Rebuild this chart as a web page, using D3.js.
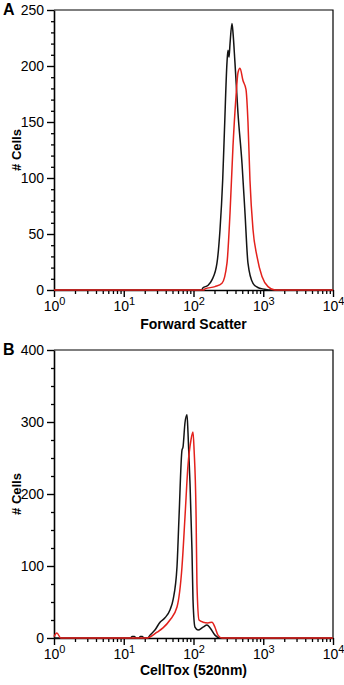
<!DOCTYPE html>
<html>
<head>
<meta charset="utf-8">
<script src="https://cdn.jsdelivr.net/npm/d3@7"></script>
<style>
  body { margin: 0; background: #fff; }
  svg { display: block; font-family: "Liberation Sans", Arial, sans-serif; }
</style>
</head>
<body>
<svg id="chart"></svg>
<script>
// Panel A: forward scatter histograms, [channel value, # cells]
const fscBlack = [
  [1, 0], [130, 0], [137, 2], [160, 4], [184, 9], [217, 24], [240, 54], [262, 98],
  [278, 143], [302, 203], [312, 214], [323, 208], [334, 220], [356, 238], [368, 230],
  [393, 203], [434, 158], [496, 113], [547, 69], [604, 24], [713, 6], [850, 2],
  [991, 1], [1200, 0], [10000, 0]
];
const fscRed = [
  [1, 0], [140, 0], [146, 1], [203, 3], [256, 6], [302, 24], [334, 69], [368, 128],
  [406, 172], [434, 194], [464, 198], [512, 187], [566, 179], [604, 150], [645, 98],
  [713, 54], [813, 30], [959, 12], [1170, 3], [1473, 0], [10000, 0]
];

// Panel B: CellTox (520nm) histograms
const ctBlack = [
  [1, 0], [12.5, 0], [13.2, 2], [14.2, 2], [15, 0], [16.5, 0], [17.3, 2], [18.4, 2],
  [19.5, 0], [22, 0], [23.8, 4], [28, 11], [33.1, 22], [39, 28], [46, 39], [50.9, 53],
  [58, 99], [62, 168], [68.4, 261], [70.7, 265], [75.5, 299], [80.7, 310], [83.4, 285],
  [89.1, 215], [95.1, 122], [98.4, 53], [105, 15], [116, 11], [137, 15], [156, 18],
  [173, 14], [203, 4], [240, 0], [10000, 0]
];
const ctRed = [
  [1, 2], [1.1, 7], [1.25, 0], [21.5, 0], [30, 8], [36.5, 14], [46, 25], [58, 43],
  [68.4, 99], [75.5, 168], [83.4, 240], [92, 275], [98.4, 286], [102, 261], [109, 168],
  [112, 76], [120, 25], [137, 22], [161, 21], [184, 22], [203, 15], [224, 4], [256, 0],
  [10000, 0]
];

const decades = [1, 10, 100, 1000, 10000];

const W = 344, H = 685;
const svg = d3.select("#chart").attr("width", W).attr("height", H);

function drawPanel(cfg) {
  const g = svg.append("g");

  const x = d3.scaleLog().domain([1, 10000]).range([54, 333]);
  const y = d3.scaleLinear().domain([0, cfg.yMax]).range([cfg.bottom, cfg.top]);

  // frame (top + right)
  g.append("path")
    .attr("d", `M${x(1)},${y(cfg.yMax)}H${x(10000)}V${y(0)}`)
    .attr("fill", "none").attr("stroke", "#000").attr("stroke-width", 1.2);

  // minor ticks y
  const yMinor = d3.range(0, cfg.yMax + 0.1, cfg.yMinorStep).filter(v => v % cfg.yStep !== 0);
  g.append("g")
    .attr("transform", `translate(${x(1)},0)`)
    .call(d3.axisLeft(y).tickValues(yMinor).tickSize(3).tickFormat(""))
    .call(a => a.select(".domain").remove())
    .call(a => a.selectAll("line").attr("stroke-width", 1.3));

  // major y axis
  g.append("g")
    .attr("transform", `translate(${x(1)},0)`)
    .call(d3.axisLeft(y).tickValues(d3.range(0, cfg.yMax + 0.1, cfg.yStep)).tickSize(7).tickSizeOuter(0).tickPadding(3))
    .call(a => a.select(".domain").attr("stroke-width", 1.6))
    .call(a => a.selectAll("line").attr("stroke-width", 1.4))
    .call(a => a.selectAll("text").attr("font-size", 14).attr("fill", "#000").attr("font-family", null));

  // minor ticks x
  const xMinor = [];
  decades.slice(0, -1).forEach(d => { for (let k = 2; k <= 9; k++) xMinor.push(d * k); });
  g.append("g")
    .attr("transform", `translate(0,${y(0)})`)
    .call(d3.axisBottom(x).tickValues(xMinor).tickSize(4).tickFormat(""))
    .call(a => a.select(".domain").remove())
    .call(a => a.selectAll("line").attr("stroke-width", 1.3));

  // major x axis with 10^n labels
  const xAxis = g.append("g")
    .attr("transform", `translate(0,${y(0)})`)
    .call(d3.axisBottom(x).tickValues(decades).tickSize(7).tickSizeOuter(0).tickFormat(""))
    .call(a => a.select(".domain").attr("stroke-width", 1.6))
    .call(a => a.selectAll("line").attr("stroke-width", 1.4));

  xAxis.selectAll(".tick").append("text")
    .attr("y", 21)
    .attr("text-anchor", "middle")
    .attr("fill", "#000")
    .attr("font-size", 14)
    .each(function(d) {
      const t = d3.select(this);
      t.append("tspan").text("10");
      t.append("tspan").attr("dy", -6).attr("font-size", 11).text(Math.round(Math.log10(d)));
    });

  // x title
  g.append("text")
    .attr("x", (x(1) + x(10000)) / 2)
    .attr("y", cfg.bottom + cfg.titleOffset)
    .attr("text-anchor", "middle")
    .attr("font-weight", "bold")
    .attr("font-size", 14)
    .text(cfg.xTitle);

  // y title
  g.append("text")
    .attr("transform", `translate(21,${(cfg.top + cfg.bottom) / 2}) rotate(-90)`)
    .attr("text-anchor", "middle")
    .attr("font-weight", "bold")
    .attr("font-size", 13)
    .text("# Cells");

  // panel letter
  g.append("text")
    .attr("x", 3).attr("y", cfg.top + 5)
    .attr("font-weight", "bold")
    .attr("font-size", 16)
    .text(cfg.letter);

  const line = d3.line()
    .x(d => x(d[0]))
    .y(d => y(d[1]))
    .curve(d3.curveMonotoneX);

  g.append("path").datum(cfg.black)
    .attr("d", line).attr("fill", "none")
    .attr("stroke", "#141414").attr("stroke-width", 1.5);

  g.append("path").datum(cfg.red)
    .attr("d", line).attr("fill", "none")
    .attr("stroke", "#e3211c").attr("stroke-width", 1.5);
}

drawPanel({ letter: "A", top: 10, bottom: 290, yMax: 250, yStep: 50, yMinorStep: 10,
  xTitle: "Forward Scatter", titleOffset: 39, black: fscBlack, red: fscRed });

drawPanel({ letter: "B", top: 350, bottom: 638, yMax: 400, yStep: 100, yMinorStep: 25,
  xTitle: "CellTox (520nm)", titleOffset: 37, black: ctBlack, red: ctRed });
</script>
</body>
</html>
